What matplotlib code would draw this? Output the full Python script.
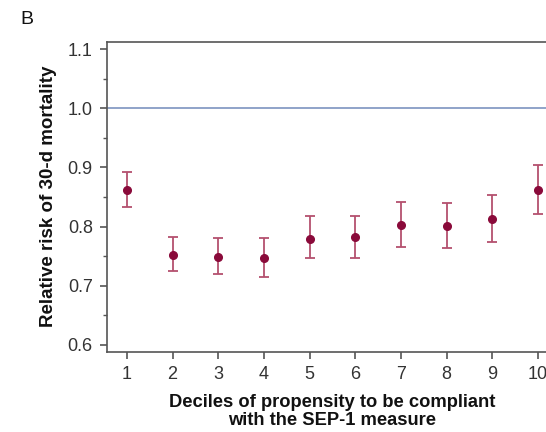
import matplotlib
matplotlib.use("Agg")
import matplotlib.pyplot as plt
from matplotlib import ticker as mtick

plt.rcParams["font.family"] = ["Liberation Sans", "DejaVu Sans"]

deciles = [1, 2, 3, 4, 5, 6, 7, 8, 9, 10]
rr = [0.862, 0.752, 0.748, 0.746, 0.778, 0.782, 0.803, 0.801, 0.812, 0.862]
ci_low = [0.833, 0.725, 0.719, 0.715, 0.746, 0.747, 0.766, 0.764, 0.774, 0.822]
ci_high = [0.893, 0.782, 0.781, 0.780, 0.817, 0.818, 0.841, 0.840, 0.853, 0.905]
y_ticks = [0.6, 0.7, 0.8, 0.9, 1.0, 1.1]

point_color = "#8a0a3a"
bar_color = "#b4506e"
ref_color = "#7d94c0"
axis_color = "#555555"

fig = plt.figure(figsize=(5.46, 4.32), dpi=100)
ax = fig.add_axes([0.1954, 0.1859, 0.827, 0.7176])

ax.axhline(1.0, color=ref_color, lw=1.2, zorder=1)

err = [[r - lo for r, lo in zip(rr, ci_low)], [hi - r for r, hi in zip(rr, ci_high)]]
ax.errorbar(deciles, rr, yerr=err, fmt="none", ecolor=bar_color, elinewidth=1.3,
            capsize=3.5, capthick=1.3, zorder=2)
ax.plot(deciles, rr, "o", color=point_color, ms=5.5, zorder=3)

ax.set_xlim(0.56, 10.44)
ax.set_ylim(0.588, 1.113)
ax.set_xticks(deciles)
ax.set_yticks(y_ticks)
ax.yaxis.set_major_formatter(mtick.FormatStrFormatter("%.1f"))
ax.yaxis.set_minor_locator(mtick.MultipleLocator(0.05))

for s in ax.spines.values():
    s.set_color(axis_color)
    s.set_linewidth(1.2)

ax.tick_params(axis="both", which="major", direction="out", length=5, width=1.2,
               color=axis_color, labelsize=13, labelcolor="#333333", pad=5)
ax.tick_params(axis="y", which="minor", direction="out", length=3, width=1.0,
               color=axis_color)

ax.set_ylabel("Relative risk of 30-d mortality", fontsize=13.5, fontweight="bold",
              color="#111111", labelpad=8)
ax.set_xlabel("Deciles of propensity to be compliant\nwith the SEP-1 measure",
              fontsize=13.2, fontweight="bold", color="#111111", labelpad=8,
              linespacing=1.1)

fig.text(0.037, 0.955, "B", fontsize=14, color="#111111", va="center", ha="left")

fig.savefig("out.png", dpi=100)
